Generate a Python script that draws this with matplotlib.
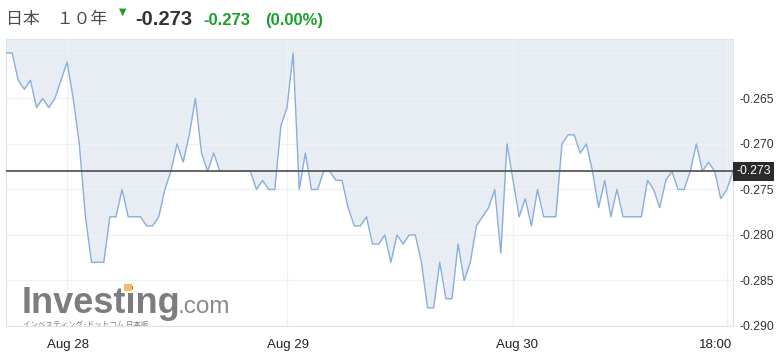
import matplotlib
matplotlib.use("Agg")
import matplotlib.pyplot as plt
import matplotlib.transforms as mtransforms
from matplotlib.patches import Rectangle

# Japan 10Y yield, one point per bar (Aug 28 -> Aug 30 18:00)
YIELDS = [
    -0.260, -0.260, -0.263, -0.264, -0.263, -0.266, -0.265, -0.266, -0.265, -0.263,
    -0.261, -0.265, -0.270, -0.278, -0.283, -0.283, -0.283, -0.278, -0.278, -0.275,
    -0.278, -0.278, -0.278, -0.279, -0.279, -0.278, -0.275, -0.273, -0.270, -0.272,
    -0.269, -0.265, -0.271, -0.273, -0.271, -0.273, -0.273, -0.273, -0.273, -0.273,
    -0.273, -0.275, -0.274, -0.275, -0.275, -0.268, -0.266, -0.260, -0.275, -0.271,
    -0.275, -0.275, -0.273, -0.273, -0.274, -0.274, -0.277, -0.279, -0.279, -0.278,
    -0.281, -0.281, -0.280, -0.283, -0.280, -0.281, -0.280, -0.280, -0.283, -0.288,
    -0.288, -0.283, -0.287, -0.287, -0.281, -0.285, -0.283, -0.279, -0.278, -0.277,
    -0.275, -0.282, -0.270, -0.274, -0.278, -0.276, -0.279, -0.275, -0.278, -0.278,
    -0.278, -0.270, -0.269, -0.269, -0.271, -0.270, -0.273, -0.277, -0.274, -0.278,
    -0.275, -0.278, -0.278, -0.278, -0.278, -0.274, -0.275, -0.277, -0.274, -0.273,
    -0.275, -0.275, -0.273, -0.270, -0.273, -0.272, -0.273, -0.276, -0.275, -0.273,
]
CURRENT = -0.273
X_TICK_IDX = [10, 46, 83, 118]
X_TICK_LABELS = ["Aug 28", "Aug 29", "Aug 30", "18:00"]
Y_TICKS = [-0.260, -0.265, -0.270, -0.275, -0.280, -0.285, -0.290]
Y_TICK_LABELS = ["", "-0.265", "-0.270", "-0.275", "-0.280", "-0.285", "-0.290"]
TITLE = "日本\u3000１０年"
LAST = "-0.273"
CHANGE = "-0.273"
CHANGE_PCT = "(0.00%)"

INK = "#333333"
GREEN = "#1a9f2a"
LINE = "#8aaedc"
FILL = "#e8edf4"
GRID = "#eef1f5"
FRAME = "#dfe3ea"

plt.rcParams["font.family"] = ["Liberation Sans", "Noto Sans CJK JP", "DejaVu Sans"]

W, H = 784, 361
fig = plt.figure(figsize=(W / 100, H / 100), dpi=100)


def fx(px):
    return px / W


def fy(py):
    return 1 - py / H


ax = fig.add_axes([fx(6), fy(326), fx(733) - fx(6), fy(39) - fy(326)])
y_top, y_bot = -0.25847, -0.28995
xs = list(range(len(YIELDS)))

ax.fill_between(xs, YIELDS, y_top, color=FILL, linewidth=0, zorder=1)
ax.plot(xs, YIELDS, color=LINE, linewidth=1.0, zorder=3)
ax.axhline(CURRENT, color="#5a5a5a", linewidth=1.3, zorder=4)

ax.set_xlim(0, len(YIELDS) - 1)
ax.set_ylim(y_bot, y_top)
ax.set_yticks(Y_TICKS)
ax.set_yticklabels(Y_TICK_LABELS)
ax.yaxis.tick_right()
ax.tick_params(axis="y", length=0, pad=4.5, labelsize=8.8, labelcolor=INK)
ax.set_xticks(X_TICK_IDX)
ax.set_xticklabels([])
ax.tick_params(axis="x", length=0)
ax.grid(True, color=GRID, linewidth=0.9, zorder=2)
ax.set_axisbelow(False)
for sp in ax.spines.values():
    sp.set_color(FRAME)
    sp.set_linewidth(0.8)

# date labels under the plot
shifts = [1, 1, 4, -11]
for idx, lab, dx in zip(X_TICK_IDX, X_TICK_LABELS, shifts):
    tr = ax.get_xaxis_transform() + mtransforms.ScaledTranslation(dx / 100, -19 / 100, fig.dpi_scale_trans)
    ax.text(idx, 0, lab, transform=tr, ha="center", va="center", fontsize=9.5, color="#222222")

# last price tag on the right axis
ax.text(1.0, CURRENT, LAST, transform=ax.get_yaxis_transform() +
        mtransforms.ScaledTranslation(3.5 / 100, 0, fig.dpi_scale_trans),
        ha="left", va="center", fontsize=8.8, color="white", zorder=6,
        bbox=dict(boxstyle="square,pad=0.28", fc="#2b2b2b", ec="none"))

# watermark
ax.text(fx(22), fy(313), "Investing", transform=fig.transFigure, fontsize=26,
        fontweight="bold", color="#7d7d7d", ha="left", va="baseline", zorder=5)
ax.text(fx(178), fy(313), ".com", transform=fig.transFigure, fontsize=17.5,
        color="#8a8a8a", ha="left", va="baseline", zorder=5)
fig.patches.append(Rectangle((fx(124), fy(291)), fx(8), fy(284) - fy(291),
                             transform=fig.transFigure, fc="#f6b96a", ec="none", zorder=6))
ax.text(fx(23), fy(327), "インベスティング･ドットコム 日本版", transform=fig.transFigure,
        fontsize=5.4, color="#7d7d7d", ha="left", va="baseline", clip_on=True,
        family=["Noto Sans CJK JP", "DejaVu Sans"], zorder=5)

# header
fig.text(fx(6), fy(19), TITLE, fontsize=12.2, color="#4a4a4a", ha="left", va="center",
         family=["Noto Sans CJK JP", "DejaVu Sans"])
fig.text(fx(123), fy(12), "▼", fontsize=7, color=GREEN, ha="center", va="center",
         family=["DejaVu Sans"])
fig.text(fx(135), fy(25), LAST, fontsize=14.5, fontweight="bold", color=INK,
         ha="left", va="baseline")
fig.text(fx(203), fy(25), CHANGE, fontsize=12, fontweight="bold", color=GREEN,
         ha="left", va="baseline")
fig.text(fx(265), fy(25), CHANGE_PCT, fontsize=12, fontweight="bold", color=GREEN,
         ha="left", va="baseline")

fig.savefig("out.png", dpi=100)
